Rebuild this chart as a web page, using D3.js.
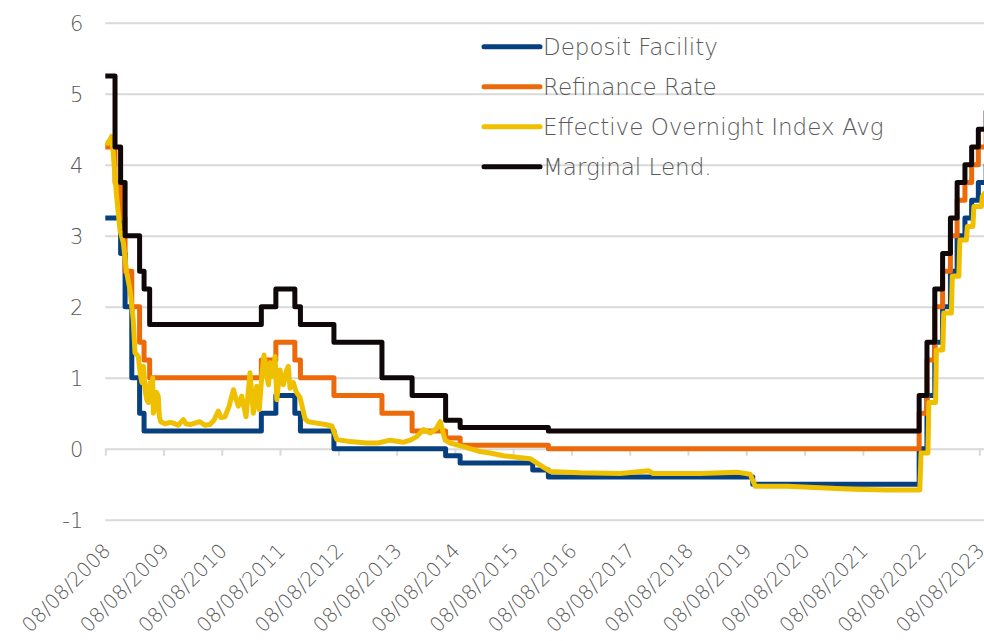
<!DOCTYPE html>
<html>
<head>
<meta charset="utf-8">
<script src="https://cdn.jsdelivr.net/npm/d3@7"></script>
<style>
  body { margin: 0; background: #fff; }
  svg { display: block; }
</style>
</head>
<body>
<div id="chart"></div>
<script>
// tick labels
var xTicks = ["08/08/2008", "08/08/2009", "08/08/2010", "08/08/2011", "08/08/2012", "08/08/2013",
    "08/08/2014", "08/08/2015", "08/08/2016", "08/08/2017", "08/08/2018", "08/08/2019",
    "08/08/2020", "08/08/2021", "08/08/2022", "08/08/2023"];
var yTicks = [-1, 0, 1, 2, 3, 4, 5, 6];

var seriesNames = ["Deposit Facility", "Refinance Rate", "Effective Overnight Index Avg", "Marginal Lend."];
var seriesColors = ["#06407f", "#ec6a0a", "#efc000", "#100808"];

// policy rates: [date the rate took effect, rate]
var depositFacility = [
    ["2008-08-08", 3.25], ["2008-11-12", 2.75], ["2008-12-10", 2.00], ["2009-01-21", 1.00],
    ["2009-03-11", 0.50], ["2009-04-08", 0.25], ["2011-04-13", 0.50], ["2011-07-13", 0.75],
    ["2011-11-09", 0.50], ["2011-12-14", 0.25], ["2012-07-11", 0.00], ["2014-06-11", -0.10],
    ["2014-09-10", -0.20], ["2015-12-09", -0.30], ["2016-03-16", -0.40], ["2019-09-18", -0.50],
    ["2022-07-27", 0.00], ["2022-09-14", 0.75], ["2022-11-02", 1.50], ["2022-12-21", 2.00],
    ["2023-02-08", 2.50], ["2023-03-22", 3.00], ["2023-05-10", 3.25], ["2023-06-21", 3.50],
    ["2023-08-02", 3.75], ["2023-09-20", 4.00], ["2023-10-31", 4.00]
];
var refinanceRate = [
    ["2008-08-08", 4.25], ["2008-10-08", 3.75], ["2008-11-12", 3.25], ["2008-12-10", 2.50],
    ["2009-01-21", 2.00], ["2009-03-11", 1.50], ["2009-04-08", 1.25], ["2009-05-13", 1.00],
    ["2011-04-13", 1.25], ["2011-07-13", 1.50], ["2011-11-09", 1.25], ["2011-12-14", 1.00],
    ["2012-07-11", 0.75], ["2013-05-08", 0.50], ["2013-11-13", 0.25], ["2014-06-11", 0.15],
    ["2014-09-10", 0.05], ["2016-03-16", 0.00], ["2022-07-27", 0.50], ["2022-09-14", 1.25],
    ["2022-11-02", 2.00], ["2022-12-21", 2.50], ["2023-02-08", 3.00], ["2023-03-22", 3.50],
    ["2023-05-10", 3.75], ["2023-06-21", 4.00], ["2023-08-02", 4.25], ["2023-09-20", 4.50],
    ["2023-10-31", 4.50]
];
var marginalLending = [
    ["2008-08-08", 5.25], ["2008-10-08", 4.25], ["2008-11-12", 3.75], ["2008-12-10", 3.00],
    ["2009-03-11", 2.50], ["2009-04-08", 2.25], ["2009-05-13", 1.75], ["2011-04-13", 2.00],
    ["2011-07-13", 2.25], ["2011-11-09", 2.00], ["2011-12-14", 1.75], ["2012-07-11", 1.50],
    ["2013-05-08", 1.00], ["2013-11-13", 0.75], ["2014-06-11", 0.40], ["2014-09-10", 0.30],
    ["2016-03-16", 0.25], ["2022-07-27", 0.75], ["2022-09-14", 1.50], ["2022-11-02", 2.25],
    ["2022-12-21", 2.75], ["2023-02-08", 3.25], ["2023-03-22", 3.75], ["2023-05-10", 4.00],
    ["2023-06-21", 4.25], ["2023-08-02", 4.50], ["2023-09-20", 4.75], ["2023-10-31", 4.75]
];
// overnight index
var overnightAvg = [
    ["2008-08-08", 4.31], ["2008-08-25", 4.30], ["2008-09-17", 4.40], ["2008-09-25", 4.21],
    ["2008-10-18", 3.55], ["2008-11-08", 3.08], ["2008-11-29", 2.90], ["2008-12-20", 2.48],
    ["2009-01-10", 2.24], ["2009-01-30", 1.82], ["2009-02-10", 1.35], ["2009-03-03", 1.30],
    ["2009-03-14", 1.07], ["2009-03-25", 0.93], ["2009-04-04", 1.16], ["2009-04-14", 0.83],
    ["2009-04-25", 0.69], ["2009-05-05", 0.65], ["2009-05-15", 0.93], ["2009-05-25", 0.70],
    ["2009-06-01", 1.00], ["2009-06-05", 0.50], ["2009-06-16", 0.55], ["2009-06-26", 0.79],
    ["2009-07-06", 0.74], ["2009-07-13", 0.45], ["2009-07-21", 0.38], ["2009-08-17", 0.35],
    ["2009-09-18", 0.37], ["2009-10-08", 0.36], ["2009-11-07", 0.33], ["2009-12-10", 0.41],
    ["2009-12-27", 0.35], ["2010-01-21", 0.34], ["2010-02-21", 0.36], ["2010-03-24", 0.38],
    ["2010-04-24", 0.33], ["2010-05-26", 0.34], ["2010-06-20", 0.40], ["2010-07-17", 0.53],
    ["2010-08-03", 0.44], ["2010-08-28", 0.45], ["2010-09-23", 0.60], ["2010-10-20", 0.83],
    ["2010-11-05", 0.70], ["2010-11-20", 0.60], ["2010-12-11", 0.74], ["2011-01-07", 0.45],
    ["2011-02-01", 1.07], ["2011-02-22", 0.50], ["2011-03-15", 0.88], ["2011-03-31", 0.55],
    ["2011-04-17", 1.05], ["2011-04-30", 1.32], ["2011-05-17", 1.02], ["2011-05-28", 0.90],
    ["2011-06-07", 1.21], ["2011-06-24", 1.02], ["2011-07-08", 1.30], ["2011-07-19", 0.69],
    ["2011-08-08", 1.11], ["2011-08-29", 0.90], ["2011-09-19", 1.11], ["2011-09-29", 1.16],
    ["2011-10-10", 0.85], ["2011-10-31", 0.93], ["2011-11-17", 0.80], ["2011-12-12", 0.72],
    ["2012-01-12", 0.42], ["2012-02-02", 0.38], ["2012-03-25", 0.36], ["2012-05-17", 0.34],
    ["2012-06-28", 0.32], ["2012-07-29", 0.13], ["2012-10-20", 0.10], ["2013-02-02", 0.08],
    ["2013-04-14", 0.08], ["2013-06-28", 0.12], ["2013-09-18", 0.09], ["2013-11-01", 0.12],
    ["2013-12-12", 0.17], ["2014-01-02", 0.22], ["2014-01-23", 0.27], ["2014-03-06", 0.22],
    ["2014-04-13", 0.28], ["2014-05-08", 0.38], ["2014-06-08", 0.12], ["2014-07-09", 0.08],
    ["2014-10-01", 0.03], ["2014-11-12", 0.00], ["2015-01-13", -0.04], ["2015-03-17", -0.06],
    ["2015-06-08", -0.10], ["2015-08-31", -0.12], ["2015-11-23", -0.14], ["2016-01-24", -0.23],
    ["2016-03-27", -0.32], ["2016-07-10", -0.33], ["2016-10-01", -0.34], ["2017-06-09", -0.35],
    ["2017-12-04", -0.31], ["2018-01-02", -0.35], ["2018-10-24", -0.35], ["2019-06-11", -0.33],
    ["2019-09-02", -0.36], ["2019-10-04", -0.53], ["2020-04-20", -0.53], ["2020-11-14", -0.55],
    ["2021-06-11", -0.57], ["2022-01-06", -0.58], ["2022-07-31", -0.58], ["2022-08-08", -0.06],
    ["2022-09-20", -0.06], ["2022-09-26", 0.65], ["2022-11-07", 0.65], ["2022-11-12", 1.39],
    ["2022-12-22", 1.39], ["2022-12-28", 1.91], ["2023-02-14", 1.91], ["2023-02-20", 2.43],
    ["2023-04-02", 2.43], ["2023-04-08", 2.94], ["2023-05-19", 2.94], ["2023-05-25", 3.13],
    ["2023-06-29", 3.13], ["2023-07-05", 3.41], ["2023-08-21", 3.41], ["2023-08-27", 3.55],
    ["2023-09-10", 3.60], ["2023-10-31", 3.65]
];

var width = 984, height = 641;
var font = "'DejaVu Sans', sans-serif";
var parseDate = d3.timeParse("%Y-%m-%d");
var parseTick = d3.timeParse("%d/%m/%Y");
var fmtTick = d3.timeFormat("%d/%m/%Y");

var x = d3.scaleTime()
    .domain([parseTick(xTicks[0]), parseTick(xTicks[xTicks.length - 1])])
    .range([105.3, 979.3]);
var y = d3.scaleLinear()
    .domain([-1, 6])
    .range([519.7, 22.7]);

var svg = d3.select("#chart").append("svg")
    .attr("width", width)
    .attr("height", height)
    .style("background", "#fff");

// gridlines + y labels
var yAxis = svg.append("g")
    .attr("transform", "translate(" + x.range()[0] + ",0)")
    .call(d3.axisLeft(y).tickValues(yTicks).tickSize(-(width - x.range()[0])).tickPadding(22)
        .tickFormat(function(d) { return d; }));
yAxis.select(".domain").remove();
yAxis.selectAll(".tick line").attr("stroke", "#d9d9d9").attr("stroke-width", 2);
yAxis.selectAll(".tick text")
    .attr("fill", "#595959")
    .attr("font-family", font)
    .attr("font-size", 21)
    .attr("font-weight", 200)
    .attr("dy", "0.36em");

// small ticks on the zero line
var tickVals = xTicks.map(parseTick);
var xTickAxis = svg.append("g")
    .attr("transform", "translate(0," + y(0) + ")")
    .call(d3.axisBottom(x).tickValues(tickVals).tickSize(7).tickFormat(""));
xTickAxis.select(".domain").remove();
xTickAxis.selectAll(".tick line").attr("stroke", "#d9d9d9").attr("stroke-width", 2);

// rotated date labels below the plot
var xLabels = svg.append("g")
    .attr("transform", "translate(0,547)")
    .call(d3.axisBottom(x).tickValues(tickVals).tickSize(0).tickFormat(fmtTick));
xLabels.select(".domain").remove();
xLabels.selectAll(".tick text")
    .attr("fill", "#595959")
    .attr("font-family", font)
    .attr("font-size", 20)
    .attr("font-weight", 200)
    .attr("x", 0)
    .attr("y", 0)
    .attr("dy", "0.35em")
    .attr("text-anchor", "end")
    .attr("transform", "translate(1,0) rotate(-45)");

// lines
function toPoints(arr) {
    return arr.map(function(d) { return { date: parseDate(d[0]), value: d[1] }; });
}
var stepLine = d3.line()
    .x(function(d) { return x(d.date); })
    .y(function(d) { return y(d.value); })
    .curve(d3.curveStepAfter);
var plainLine = d3.line()
    .x(function(d) { return x(d.date); })
    .y(function(d) { return y(d.value); });

var series = [
    { data: toPoints(depositFacility), gen: stepLine, color: seriesColors[0] },
    { data: toPoints(refinanceRate), gen: stepLine, color: seriesColors[1] },
    { data: toPoints(overnightAvg), gen: plainLine, color: seriesColors[2] },
    { data: toPoints(marginalLending), gen: stepLine, color: seriesColors[3] }
];

svg.append("g").selectAll("path")
    .data(series)
    .enter()
    .append("path")
    .attr("d", function(d) { return d.gen(d.data); })
    .attr("fill", "none")
    .attr("stroke", function(d) { return d.color; })
    .attr("stroke-width", 5)
    .attr("stroke-linejoin", "round");

// legend
var legend = svg.append("g")
    .attr("transform", "translate(484,46.7)");
var item = legend.selectAll("g")
    .data(seriesNames)
    .enter()
    .append("g")
    .attr("transform", function(d, i) { return "translate(0," + i * 40 + ")"; });
item.append("line")
    .attr("x1", 0).attr("x2", 56)
    .attr("stroke", function(d, i) { return seriesColors[i]; })
    .attr("stroke-width", 5)
    .attr("stroke-linecap", "round");
item.append("text")
    .attr("x", 59)
    .attr("dy", "0.36em")
    .attr("fill", "#595959")
    .attr("font-family", font)
    .attr("font-size", 23)
    .attr("font-weight", 200)
    .text(function(d) { return d; });
</script>
</body>
</html>
